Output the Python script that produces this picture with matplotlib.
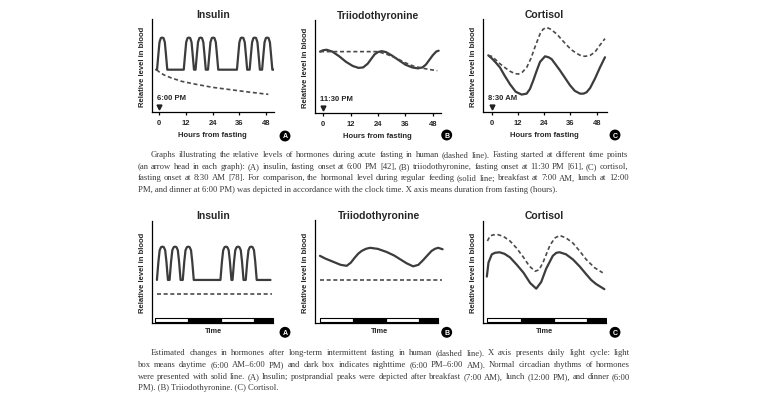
import numpy as np
import matplotlib.pyplot as plt

plt.rcParams['font.family'] = ['Liberation Sans', 'DejaVu Sans']

W, H = 768, 402

# ---------------- data: acute fasting (top row) ----------------
hour_ticks = [0, 12, 24, 36, 48]
onset_labels = ['6:00 PM', '11:30 PM', '8:30 AM']
titles = ['Insulin', 'Triiodothyronine', 'Cortisol']
letters = ['A', 'B', 'C']

# insulin, regular feeding (solid)
ins_fed_h = [-1.4, -1.0, -0.4, 0.1, 0.7, 1.3, 1.9, 2.5, 3.0, 3.6,
             11.0, 11.6, 12.1, 12.7, 13.3, 13.9, 14.5, 15.0, 15.6,
             16.3, 16.9, 17.4, 18.0, 18.6, 19.2, 19.8, 20.3, 20.9,
             21.9, 22.5, 23.0, 23.6, 24.2, 24.8, 25.4, 25.9, 26.5,
             34.9, 35.5, 36.0, 36.6, 37.2, 37.8, 38.4, 38.9, 39.5,
             40.6, 41.2, 41.7, 42.3, 42.9, 43.5, 44.1, 44.6, 45.2,
             46.2, 46.8, 47.3, 47.9, 48.5, 49.1, 49.7, 50.2, 50.8, 51.3]
ins_fed_v = [0.455, 0.455, 0.62, 0.75, 0.795, 0.80, 0.795, 0.75, 0.62, 0.455,
             0.455, 0.62, 0.75, 0.795, 0.80, 0.795, 0.75, 0.62, 0.455,
             0.455, 0.62, 0.75, 0.795, 0.80, 0.795, 0.75, 0.62, 0.455,
             0.455, 0.62, 0.75, 0.795, 0.80, 0.795, 0.75, 0.62, 0.455,
             0.455, 0.62, 0.75, 0.795, 0.80, 0.795, 0.75, 0.62, 0.455,
             0.455, 0.62, 0.75, 0.795, 0.80, 0.795, 0.75, 0.62, 0.455,
             0.455, 0.62, 0.75, 0.795, 0.80, 0.795, 0.75, 0.62, 0.455, 0.455]
# insulin, fasting (dashed)
ins_fast_h = [-1.2, 0, 2, 5, 10, 16, 24, 32, 40, 49]
ins_fast_v = [0.455, 0.43, 0.40, 0.37, 0.33, 0.30, 0.265, 0.24, 0.215, 0.19]

# triiodothyronine
t3_fed_h = [-1.4, 0, 1.5, 4, 7, 10, 13, 15.5, 17.5, 19.5, 21, 22.5, 24, 25.6,
            27.5, 30, 33, 36, 39, 41.5, 43.5, 45, 46.5, 48, 49.5, 50.6]
t3_fed_v = [0.66, 0.675, 0.68, 0.66, 0.61, 0.55, 0.505, 0.485, 0.49, 0.53, 0.58,
            0.63, 0.655, 0.665, 0.655, 0.62, 0.57, 0.52, 0.49, 0.48, 0.49, 0.52,
            0.57, 0.62, 0.66, 0.67]
t3_fast_h = [-1.4, 24, 28, 32, 36, 40, 44, 46, 50]
t3_fast_v = [0.66, 0.66, 0.63, 0.59, 0.54, 0.50, 0.48, 0.47, 0.455]

# cortisol
cor_fed_h = [-1.55, 0, 2, 3.8, 6, 8.4, 11, 13.7, 16, 17.5, 19, 20.5, 22.1, 24.4,
             26, 27.4, 29, 31.2, 33.5, 35.8, 38, 40.4, 42, 43.4, 45, 47.2, 49.5, 51.8]
cor_fed_v = [0.61, 0.58, 0.53, 0.48, 0.39, 0.30, 0.22, 0.19, 0.20, 0.25, 0.34, 0.44,
             0.54, 0.60, 0.59, 0.57, 0.52, 0.45, 0.37, 0.29, 0.23, 0.20, 0.20, 0.215,
             0.26, 0.36, 0.48, 0.59]
cor_fast_h = [-1.55, 0, 2, 3.8, 6, 8.4, 10.5, 12.2, 14, 16, 18, 19.8, 22.1, 23.5, 25.1,
              27, 29.7, 32, 34.3, 36.5, 38.9, 41, 42.7, 45, 47.2, 49.5, 51.8]
cor_fast_v = [0.61, 0.60, 0.56, 0.52, 0.48, 0.44, 0.415, 0.41, 0.43, 0.48, 0.58, 0.70,
              0.84, 0.89, 0.91, 0.89, 0.84, 0.78, 0.72, 0.67, 0.63, 0.605, 0.60, 0.61,
              0.645, 0.72, 0.79]

# ---------------- data: intermittent fasting (bottom row) ----------------
cycle_start = [0, 12, 24, 36]
cycle_len = [12, 12, 12, 7]
cycle_dark = [False, True, False, True]

ins2_fed_h = [0.7, 1.25, 1.7, 2.2, 2.7, 3.2, 3.7, 4.15, 4.7,
              5.3, 5.85, 6.3, 6.8, 7.3, 7.8, 8.3, 8.75, 9.3,
              10.1, 10.65, 11.1, 11.6, 12.1, 12.6, 13.1, 13.55, 14.1,
              23.8, 24.35, 24.8, 25.3, 25.8, 26.3, 26.8, 27.25, 27.8,
              28.2, 28.75, 29.2, 29.7, 30.2, 30.7, 31.2, 31.65, 32.2,
              33.0, 33.55, 34.0, 34.5, 35.0, 35.5, 36.0, 36.45, 37.0, 42.0]
ins2_fed_v = [0.42, 0.60, 0.71, 0.74, 0.745, 0.74, 0.71, 0.60, 0.42,
              0.42, 0.60, 0.71, 0.74, 0.745, 0.74, 0.71, 0.60, 0.42,
              0.42, 0.60, 0.71, 0.74, 0.745, 0.74, 0.71, 0.60, 0.42,
              0.42, 0.60, 0.71, 0.74, 0.745, 0.74, 0.71, 0.60, 0.42,
              0.42, 0.60, 0.71, 0.74, 0.745, 0.74, 0.71, 0.60, 0.42,
              0.42, 0.60, 0.71, 0.74, 0.745, 0.74, 0.71, 0.60, 0.42, 0.42]
ins2_fast_h = [0.9, 42.4]
ins2_fast_v = [0.283, 0.283]

t32_fed_h = [0, 2, 4.85, 7.5, 9.7, 11.2, 12.7, 14, 15.2, 16.7, 18.2, 21, 24.2, 27,
             29.1, 31.5, 33.9, 35.8, 37.6, 39.2, 40.6, 41.8, 43.0, 44.6]
t32_fed_v = [0.652, 0.625, 0.594, 0.565, 0.555, 0.585, 0.636, 0.675, 0.70, 0.72, 0.73,
             0.72, 0.69, 0.655, 0.62, 0.58, 0.55, 0.565, 0.613, 0.66, 0.70, 0.72,
             0.73, 0.716]
t32_fast_h = [0, 44.4]
t32_fast_v = [0.42, 0.42]

cor2_fed_h = [-0.2, 0.4, 1.6, 2.8, 4.4, 6.2, 8.2, 10.6, 13.1, 15.5, 17.7, 19.5, 21.3,
              23.7, 25.0, 26.2, 28.5, 31, 33.5, 35.8, 37.6, 39.4, 42.4]
cor2_fed_v = [0.453, 0.59, 0.67, 0.685, 0.69, 0.675, 0.64, 0.57, 0.49, 0.39, 0.335,
              0.40, 0.53, 0.655, 0.685, 0.69, 0.67, 0.62, 0.55, 0.476, 0.42, 0.38, 0.33]
cor2_fast_h = [0, 1, 2.2, 3.6, 5.8, 8.2, 10.6, 13.1, 15.2, 17.3, 18.8, 20.3, 22.7,
               24.5, 26.2, 28.5, 31, 33.5, 35.8, 38.8, 41.8]
cor2_fast_v = [0.80, 0.85, 0.86, 0.864, 0.845, 0.80, 0.73, 0.64, 0.555, 0.505, 0.52,
               0.60, 0.76, 0.83, 0.854, 0.83, 0.78, 0.70, 0.62, 0.54, 0.49]

caption_top = [
    "Graphs illustrating the relative levels of hormones during acute fasting in human (dashed line). Fasting started at different time points",
    "(an arrow head in each graph): (A) insulin, fasting onset at 6:00 PM [42], (B) triiodothyronine, fasting onset at 11:30 PM [61], (C) cortisol,",
    "fasting onset at 8:30 AM [78]. For comparison, the hormonal level during regular feeding (solid line; breakfast at 7:00 AM, lunch at 12:00",
    "PM, and dinner at 6:00 PM) was depicted in accordance with the clock time. X axis means duration from fasting (hours).",
]
caption_bottom = [
    "Estimated changes in hormones after long-term intermittent fasting in human (dashed line). X axis presents daily light cycle: light",
    "box means daytime (6:00 AM\u20136:00 PM) and dark box indicates nighttime (6:00 PM\u20136:00 AM). Normal circadian rhythms of hormones",
    "were presented with solid line. (A) Insulin; postprandial peaks were depicted after breakfast (7:00 AM), lunch (12:00 PM), and dinner (6:00",
    "PM). (B) Triiodothyronine. (C) Cortisol.",
]

fig = plt.figure(figsize=(W / 100, H / 100), dpi=100)
fig.patch.set_facecolor('white')

TXT = '#262626'
SOLID = dict(color='#3c3c3c', lw=1.6, solid_joinstyle='round', solid_capstyle='round')
DASH = dict(color='#4a4a4a', lw=1.2, linestyle=(0, (2.4, 1.6)))


def box(l, t, r, b):
    return [l / W, 1 - b / H, (r - l) / W, (b - t) / H]


def style(ax):
    for s in ['top', 'right']:
        ax.spines[s].set_visible(False)
    for s in ['left', 'bottom']:
        ax.spines[s].set_linewidth(0.9)
    ax.set_yticks([])
    ax.set_ylim(0, 1)
    ax.set_ylabel('Relative level in blood', fontsize=5.5, fontweight='bold',
                  color=TXT, labelpad=4)
    ax.patch.set_alpha(0)


def circ(x, y, s):
    fig.text(x / W, 1 - y / H, s, fontsize=5, fontweight='bold', color='white',
             ha='center', va='center',
             bbox=dict(boxstyle='circle,pad=0.18', fc='black', ec='black'))


# top row
top_boxes = [(151.7, 20, 273.9, 113), (315, 21, 440.7, 114), (482.7, 20, 606.5, 113.3)]
top_xlim = [(-3.4, 51.5), (-3.6, 51.5), (-4.1, 52.5)]
top_fed = [(ins_fed_h, ins_fed_v), (t3_fed_h, t3_fed_v), (cor_fed_h, cor_fed_v)]
top_fast = [(ins_fast_h, ins_fast_v), (t3_fast_h, t3_fast_v), (cor_fast_h, cor_fast_v)]
top_circ = [(285, 137), (446.7, 136), (615, 136)]

for i in range(3):
    ax = fig.add_axes(box(*top_boxes[i]))
    style(ax)
    ax.set_xlim(*top_xlim[i])
    ax.plot(*top_fed[i], **SOLID)
    ax.plot(*top_fast[i], **DASH)
    ax.set_xticks(hour_ticks)
    ax.tick_params(axis='x', length=2.5, width=0.9, pad=2.5, labelsize=5.5,
                   labelcolor=TXT)
    for lab in ax.get_xticklabels():
        lab.set_fontweight('bold')
    ax.set_xlabel('Hours from fasting', fontsize=5.5, fontweight='bold',
                  color=TXT, labelpad=3.5)
    ax.set_title(titles[i], fontsize=7.5, fontweight='bold', color=TXT, pad=1)
    ax.text(top_xlim[i][0] + 2.2, 0.155, onset_labels[i], fontsize=5.5,
            fontweight='bold', color=TXT, ha='left', va='center')
    ax.plot([0], [0.055], marker='v', ms=3.5, color='#222', clip_on=False)
    circ(*top_circ[i], letters[i])

# bottom row
bot_boxes = [(151.7, 221.5, 274.6, 324), (315, 221, 443.7, 324), (482.7, 221.5, 606.6, 324)]
bot_xlim = [(-1.2, 43.5), (-1.8, 45), (-1.7, 43.2)]
bot_fed = [(ins2_fed_h, ins2_fed_v), (t32_fed_h, t32_fed_v), (cor2_fed_h, cor2_fed_v)]
bot_fast = [(ins2_fast_h, ins2_fast_v), (t32_fast_h, t32_fast_v), (cor2_fast_h, cor2_fast_v)]
bot_circ = [(285, 333.3), (446.7, 333.3), (615, 333.3)]

for i in range(3):
    ax = fig.add_axes(box(*bot_boxes[i]))
    style(ax)
    ax.set_xlim(*bot_xlim[i])
    ax.spines['bottom'].set_bounds(bot_xlim[i][0], 43)
    ax.set_xticks([])
    ax.plot(*bot_fed[i], **SOLID)
    ax.plot(*bot_fast[i], **DASH)
    light = [(s, w) for s, w, d in zip(cycle_start, cycle_len, cycle_dark) if not d]
    dark = [(s, w) for s, w, d in zip(cycle_start, cycle_len, cycle_dark) if d]
    ax.broken_barh(light, (0.008, 0.042), facecolors='white', edgecolors='black', lw=0.8)
    ax.broken_barh(dark, (0.008, 0.042), facecolors='black', edgecolors='black', lw=0.8)
    ax.set_xlabel('Time', fontsize=5.3, fontweight='bold', color=TXT, labelpad=3)
    ax.set_title(titles[i], fontsize=7.5, fontweight='bold', color=TXT, pad=1.5)
    circ(*bot_circ[i], letters[i])

# captions, justified like the source page (words share one baseline)
cap_kw = dict(family='Liberation Serif', fontsize=6.25, color='#3a3a3a', va='baseline')
rend = fig.canvas.get_renderer()


def put_line(text, x0, x1, y, justify):
    yb = y + 2.3
    if not justify:
        fig.text(x0 / W, 1 - yb / H, text, **cap_kw)
        return
    words = text.split(' ')
    widths = []
    for w in words:
        t = fig.text(0, 0, w, **cap_kw)
        widths.append(t.get_window_extent(rend).width)
        t.remove()
    gap = (x1 - x0 - sum(widths)) / (len(words) - 1)
    x = x0
    for w, wd in zip(words, widths):
        fig.text(x / W, 1 - yb / H, w, **cap_kw)
        x += wd + gap


for k, line in enumerate(caption_top):
    x0 = 151 if k == 0 else 137.5
    put_line(line, x0, 628.5, 154.7 + k * 11.7, k < 3)
for k, line in enumerate(caption_bottom):
    x0 = 151 if k == 0 else 137.5
    put_line(line, x0, 630, 353 + k * 11.7, k < 3)

fig.savefig('out.png', dpi=100, facecolor='white')
